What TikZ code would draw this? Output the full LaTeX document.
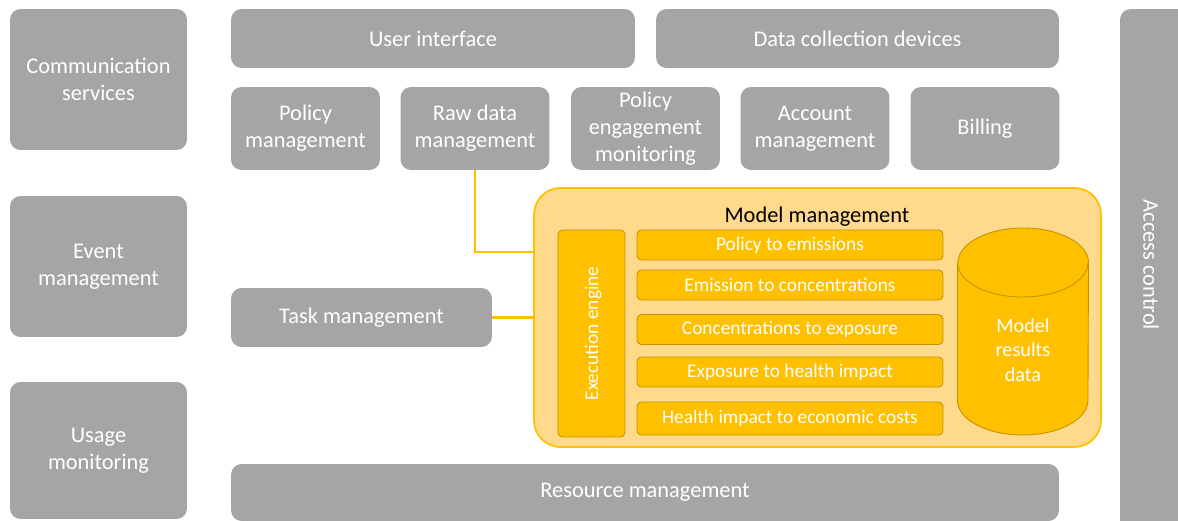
\documentclass[tikz,border=0pt]{standalone}
\usepackage{fontspec}
\setmainfont{Carlito}
\usetikzlibrary{positioning}
\definecolor{boxG}{HTML}{A5A5A5}
\definecolor{modO}{HTML}{FFC000}
\definecolor{modL}{HTML}{FFD98C}
\definecolor{modD}{HTML}{C49300}

\begin{document}
\begin{tikzpicture}[x=0.02cm, y=-0.02cm,
   font=\fontsize{12.75}{15.3}\selectfont,
   gbox/.style={fill=boxG, text=white, align=center, rounded corners=6pt, inner sep=0pt},
   obox/.style={fill=modO, draw=modD, line width=0.5pt, text=white, align=center,
                rounded corners=2.5pt, inner sep=0pt, font=\fontsize{11}{13.5}\selectfont},
   link/.style={draw=modO, line width=1.2pt}]
  \clip (0,0) rectangle (1178,521);
  % left column
  \node[gbox, minimum width=3.54cm, minimum height=2.82cm] (comm) at (98.5,79.5) {Communication\\services};
  \node[gbox, minimum width=3.54cm, minimum height=2.82cm] (event) at (98.5,266.5) {Event\\management};
  \node[gbox, minimum width=3.54cm, minimum height=2.74cm] (usage) at (98.5,450.5) {Usage\\monitoring};
  % top rows
  \node[gbox, minimum width=8.08cm, minimum height=1.18cm] (ui) at (433,38.5) {User interface};
  \node[gbox, minimum width=8.06cm, minimum height=1.18cm] (dcd) at (857.5,38.5) {Data collection devices};
  \foreach \x/\nm/\txt in {305.5/polm/{Policy\\management}, 475/raw/{Raw data\\management},
      645.5/peng/{Policy\\engagement\\monitoring}, 815/acct/{Account\\management}, 985/bill/{Billing}}{%
    \node[gbox, minimum width=2.98cm, minimum height=1.66cm] (\nm) at (\x,128.5) {\txt};
  }
  % access control
  \node[gbox, minimum width=1.4cm, minimum height=10.6cm] (acc) at (1155,274) {};
  \node[text=white, rotate=-90] (acclab) at (1151,265) {Access control};
  % task and resource management
  \node[gbox, minimum width=5.22cm, minimum height=1.18cm] (task) at (361.5,317.5) {Task management};
  \node[gbox, minimum width=16.56cm, minimum height=1.14cm] (res) at (645,492.5) {Resource management};
  % model management
  \node[fill=modL, draw=modO, line width=1pt, rounded corners=15pt,
        minimum width=11.34cm, minimum height=5.18cm] (model) at (817.5,317.5) {};
  \node (mtitle) at (817,217) {Model management};
  \node[obox, minimum width=1.34cm, minimum height=4.14cm] (exec) at (591.5,333.5) {};
  \node[text=white, rotate=90, font=\fontsize{11}{13.5}\selectfont] (execlab) at (593,333.5) {Execution engine};
  \foreach \y/\h/\nm/\txt in {245/0.6/s1/{Policy to emissions}, 285/0.6/s2/{Emission to concentrations},
      329.5/0.6/s3/{Concentrations to exposure}, 372/0.6/s4/{Exposure to health impact},
      418.5/0.66/s5/{Health impact to economic costs}}{%
    \node[obox, minimum width=6.12cm, minimum height=\h cm] (\nm) at (790,\y) {\txt};
  }
  % results store (cylinder)
  \filldraw[fill=modO, draw=modD, line width=0.5pt]
    (957.5,262.5) -- (957.5,400.5) arc (180:360:1.305cm and 0.69cm)
    -- (1088.5,262.5) arc (0:180:1.305cm and 0.69cm) -- cycle;
  \draw[modD, line width=0.5pt] (957.5,262.5) arc (180:360:1.305cm and 0.69cm);
  \node[text=white, align=center, font=\fontsize{11.5}{13.9}\selectfont] (store) at (1023,350) {Model\\results\\data};
  % connectors
  \draw[link] (raw.south) |- ([yshift=1.31cm]model.west);
  \draw[link] (task.east) -- (model.west);
\end{tikzpicture}
\end{document}
